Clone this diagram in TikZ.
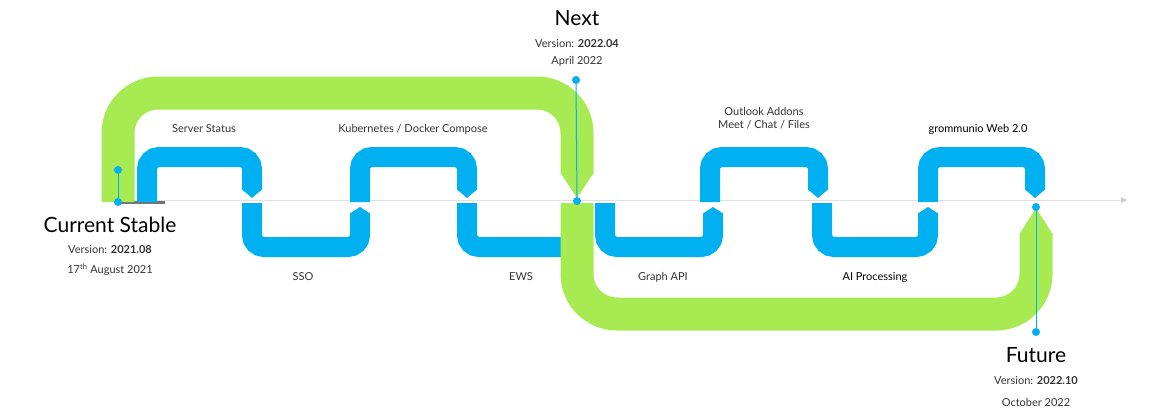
\documentclass[tikz,border=0pt]{standalone}
\usepackage{fontspec}
\setmainfont{Lato}
\definecolor{trackblue}{HTML}{00B0F0}
\definecolor{trackgreen}{HTML}{A8EA52}
\definecolor{labelgray}{HTML}{333333}
\tikzset{
  bluetrack/.style={draw=trackblue, line width=20pt, rounded corners=12pt},
  greentrack/.style={draw=trackgreen, line width=33pt, rounded corners=40pt},
  marker/.style={fill=trackblue, circle, inner sep=0pt, minimum size=8pt},
  feature/.style={text=labelgray, font=\fontsize{11}{13}\selectfont, align=center},
  release/.style={text=black, font=\fontsize{21}{24}\selectfont},
  relinfo/.style={text=labelgray, font=\fontsize{11}{13}\selectfont}
}
\begin{document}
\begin{tikzpicture}[x=1pt,y=-1pt]
  \useasboundingbox (0,0) rectangle (1151,415);

  % Zeitachse
  \coordinate (axstart) at (118,200);
  \coordinate (axend) at (1125,200);
  \draw[black!12] (axstart) -- (axend);
  \fill[black!20] (1121,197) -- (1127,200) -- (1121,203) -- cycle;
  \draw[black!55, line width=3pt] (118,202) -- (165,202);

  % Blaue Spur: Bögen nach oben
  \foreach \xa/\xb in {147/252, 360/467, 710/818, 928/1035} {
    \draw[bluetrack] (\xa,202) -- (\xa,157) -- (\xb,157) -- (\xb,190);
    \fill[trackblue] (\xb-10,189.5) -- (\xb+10,189.5) -- (\xb,198) -- cycle;
  }
  % Blaue Spur: Bögen nach unten
  \foreach \xa/\xb in {252/360, 605/713, 822/928} {
    \draw[bluetrack] (\xa,203) -- (\xa,247) -- (\xb,247) -- (\xb,213);
    \fill[trackblue] (\xb-10,213.5) -- (\xb+10,213.5) -- (\xb,207) -- cycle;
  }
  \draw[bluetrack] (467,203) -- (467,247) -- (575,247);

  % Grüne Spur
  \draw[greentrack] (118,202) -- (118,93) -- (577,93) -- (577,174);
  \fill[trackgreen] (560.5,173) -- (593.5,173) -- (577,198) -- cycle;
  \draw[greentrack] (577,203) -- (577,314) -- (1036,314) -- (1036,233);
  \fill[trackgreen] (1019.5,234) -- (1052.5,234) -- (1036,208) -- cycle;

  % Markierungen
  \node[marker] (curtop) at (118,170) {};
  \node[marker] (curbase) at (118,202) {};
  \node[marker] (nexttop) at (576,80) {};
  \node[marker] (nextbase) at (577,201) {};
  \node[marker] (futbase) at (1036,207) {};
  \node[marker] (futbot) at (1036,332) {};
  \draw[trackblue, line width=1pt] (curtop) -- (curbase);
  \draw[trackblue, line width=1pt] (nexttop) -- (nextbase);
  \draw[trackblue, line width=1pt] (futbase) -- (futbot);

  % Versionen
  \node[release] (curname) at (110,225) {Current Stable};
  \node[relinfo] (curver) at (110,250) {Version: \textbf{2021.08}};
  \node[relinfo] (curdate) at (110,270) {17\textsuperscript{th} August 2021};
  \node[release] (nextname) at (577,18) {Next};
  \node[relinfo] (nextver) at (577,44) {Version: \textbf{2022.04}};
  \node[relinfo] (nextdate) at (577,61) {April 2022};
  \node[release] (futname) at (1036,355) {Future};
  \node[relinfo] (futver) at (1036,381) {Version: \textbf{2022.10}};
  \node[relinfo] (futdate) at (1036,402) {October 2022};

  % Funktionen
  \node[feature] (status) at (204,129) {Server Status};
  \node[feature] (kube) at (413,129) {Kubernetes / Docker Compose};
  \node[feature] (outlook) at (764,118) {Outlook Addons\\Meet / Chat / Files};
  \node[feature, text=black] (web) at (978,129) {grommunio Web 2.0};
  \node[feature] (sso) at (303,277) {SSO};
  \node[feature] (ews) at (521,277) {EWS};
  \node[feature] (graph) at (663,277) {Graph API};
  \node[feature, text=black] (ai) at (875,277) {AI Processing};
\end{tikzpicture}
\end{document}
